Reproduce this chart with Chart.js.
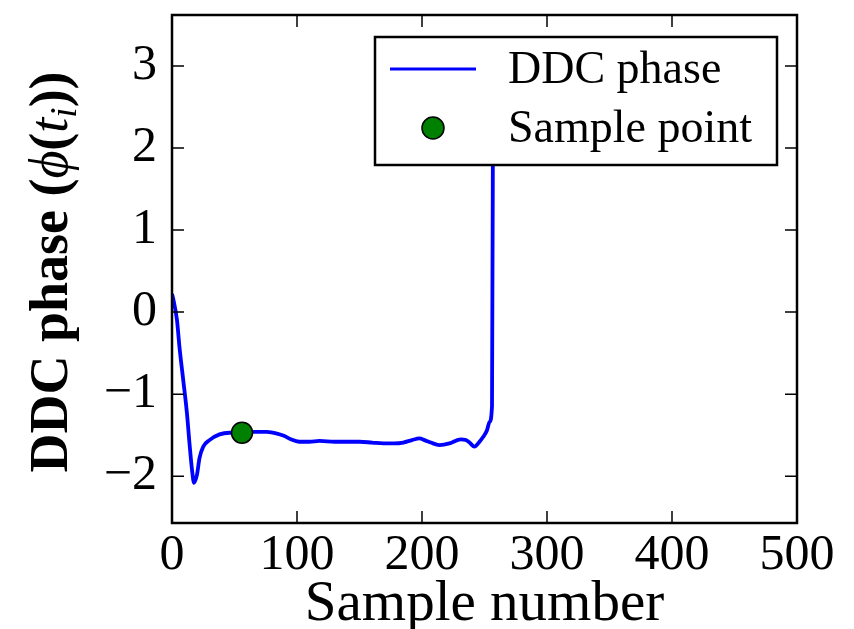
<!DOCTYPE html>
<html><head><meta charset="utf-8">
<script src="https://cdn.jsdelivr.net/npm/chart.js@4/dist/chart.umd.min.js"></script>
<style>html,body{margin:0;padding:0;background:#fff;}canvas{display:block;}</style>
</head><body>
<canvas id="c" width="854" height="629"></canvas>
<script>
// ---- data ----
const sampleNumbers = [0, 1, 4, 6, 9, 12, 14, 16, 17.6, 20, 22, 25, 30, 38, 46, 56, 66, 76, 84, 90, 95, 102, 110, 118, 130, 142, 150, 160, 169, 178, 185, 192, 198, 202, 207, 214, 222, 231, 235, 238, 242, 246, 249, 252, 254, 256, 256.9];
const ddcPhase      = [0.22, 0.16, -0.1, -0.43, -0.83, -1.24, -1.6, -1.92, -2.08, -1.98, -1.78, -1.64, -1.56, -1.49, -1.47, -1.47, -1.46, -1.46, -1.48, -1.51, -1.55, -1.58, -1.58, -1.57, -1.58, -1.58, -1.58, -1.59, -1.60, -1.60, -1.59, -1.56, -1.54, -1.56, -1.59, -1.62, -1.60, -1.55, -1.56, -1.59, -1.64, -1.58, -1.52, -1.44, -1.34, -1.15, 3.1];
const samplePointX = [56];
const samplePointY = [-1.47];
const xTicks = [0, 100, 200, 300, 400, 500];
const yTicks = [-2, -1, 0, 1, 2, 3];
const xLimits = [0, 500];
const yLimits = [-2.57, 3.62];
const seriesLabels = ['DDC phase', 'Sample point'];
const xTitle = 'Sample number';
const yTitleParts = [['DDC phase (', 'b'], ['\u03D5', 'i'], ['(', 'b'], ['t', 'i'], ['i', 's'], ['))', 'b']];

const SERIF = '"Liberation Serif", "DejaVu Serif", serif';
const fmt = v => (v < 0 ? '\u2212' + Math.abs(v) : String(v));

const framePlugin = {
  id: 'frame',
  afterDatasetsDraw(chart) {
    const {ctx, chartArea: a, scales: {x, y}} = chart;
    ctx.save();
    ctx.strokeStyle = '#000';
    ctx.lineWidth = 1.5;
    const L = 12;
    ctx.beginPath();
    xTicks.forEach(v => {
      const px = x.getPixelForValue(v);
      ctx.moveTo(px, a.bottom); ctx.lineTo(px, a.bottom - L);
      ctx.moveTo(px, a.top); ctx.lineTo(px, a.top + L);
    });
    yTicks.forEach(v => {
      const py = y.getPixelForValue(v);
      ctx.moveTo(a.left, py); ctx.lineTo(a.left + L, py);
      ctx.moveTo(a.right, py); ctx.lineTo(a.right - L, py);
    });
    ctx.stroke();
    ctx.lineWidth = 2.5;
    ctx.strokeRect(a.left, a.top, a.right - a.left, a.bottom - a.top);
    ctx.restore();
  },
  afterDraw(chart) {
    const {ctx, chartArea: a} = chart;
    const ds = chart.data.datasets;
    ctx.save();
    // legend box
    const bx = a.right - 20 - 402, by = a.top + 22, bw = 402, bh = 128;
    ctx.fillStyle = '#fff';
    ctx.fillRect(bx, by, bw, bh);
    ctx.strokeStyle = '#000'; ctx.lineWidth = 2.5;
    ctx.strokeRect(bx, by, bw, bh);
    const lineDs = ds[1], ptDs = ds[0];
    ctx.strokeStyle = lineDs.borderColor; ctx.lineWidth = 3.2;
    ctx.beginPath(); ctx.moveTo(bx + 15, by + 32); ctx.lineTo(bx + 101, by + 32); ctx.stroke();
    ctx.beginPath(); ctx.arc(bx + 58, by + 91, 11, 0, Math.PI * 2);
    ctx.fillStyle = ptDs.backgroundColor; ctx.fill();
    ctx.strokeStyle = ptDs.borderColor; ctx.lineWidth = ptDs.borderWidth; ctx.stroke();
    ctx.fillStyle = '#000';
    ctx.font = '46px ' + SERIF;
    ctx.textAlign = 'left'; ctx.textBaseline = 'alphabetic';
    ctx.fillText(lineDs.label, bx + 133, by + 46);
    ctx.fillText(ptDs.label, bx + 133, by + 105);
    // y title (mixed fonts)
    const fonts = {b: 'bold 54px ' + SERIF, i: 'italic 54px ' + SERIF, s: 'italic 37px ' + SERIF};
    let total = 0;
    yTitleParts.forEach(([t, f]) => { ctx.font = fonts[f]; total += ctx.measureText(t).width; });
    const cy = (a.top + a.bottom) / 2 + 3;
    ctx.translate(67, cy + total / 2);
    ctx.rotate(-Math.PI / 2);
    let xx = 0;
    yTitleParts.forEach(([t, f]) => {
      ctx.font = fonts[f];
      ctx.fillText(t, xx, f === 's' ? 9 : 0);
      xx += ctx.measureText(t).width;
    });
    ctx.restore();
  }
};

new Chart(document.getElementById('c'), {
  data: {
    datasets: [
      {
        type: 'scatter', label: seriesLabels[1], order: 0,
        data: samplePointX.map((v, i) => ({x: v, y: samplePointY[i]})),
        backgroundColor: '#008000', borderColor: '#000', borderWidth: 1.5,
        pointRadius: 10.5, pointHoverRadius: 10.5
      },
      {
        type: 'line', label: seriesLabels[0], order: 1,
        data: sampleNumbers.map((v, i) => ({x: v, y: ddcPhase[i]})),
        borderColor: '#0000ff', borderWidth: 3.8, pointRadius: 0, fill: false,
        cubicInterpolationMode: 'monotone'
      }
    ]
  },
  options: {
    responsive: false, animation: false,
    layout: {padding: {top: 15, right: 57, left: 0, bottom: 0}},
    plugins: {legend: {display: false}, tooltip: {enabled: false}},
    scales: {
      x: {
        type: 'linear', min: xLimits[0], max: xLimits[1],
        afterBuildTicks: s => { s.ticks = xTicks.map(v => ({value: v})); },
        afterFit: s => { s.height = 106; s.paddingLeft = 0; s.paddingRight = 0; },
        grid: {display: false, drawTicks: false}, border: {display: false},
        ticks: {color: '#000', font: {family: SERIF, size: 50}, padding: 3, maxRotation: 0, autoSkip: false, callback: v => fmt(v)},
        title: {display: true, text: xTitle, color: '#000', font: {family: SERIF, size: 57, lineHeight: 1}, padding: {top: 0, bottom: -5}}
      },
      y: {
        type: 'linear', min: yLimits[0], max: yLimits[1],
        afterBuildTicks: s => { s.ticks = yTicks.map(v => ({value: v})); },
        afterFit: s => { s.width = 172; s.paddingTop = 0; s.paddingBottom = 0; },
        grid: {display: false, drawTicks: false}, border: {display: false},
        ticks: {color: '#000', font: {family: SERIF, size: 50}, padding: 15, autoSkip: false, callback: v => fmt(v)}
      }
    }
  },
  plugins: [framePlugin]
});
</script>
</body></html>
